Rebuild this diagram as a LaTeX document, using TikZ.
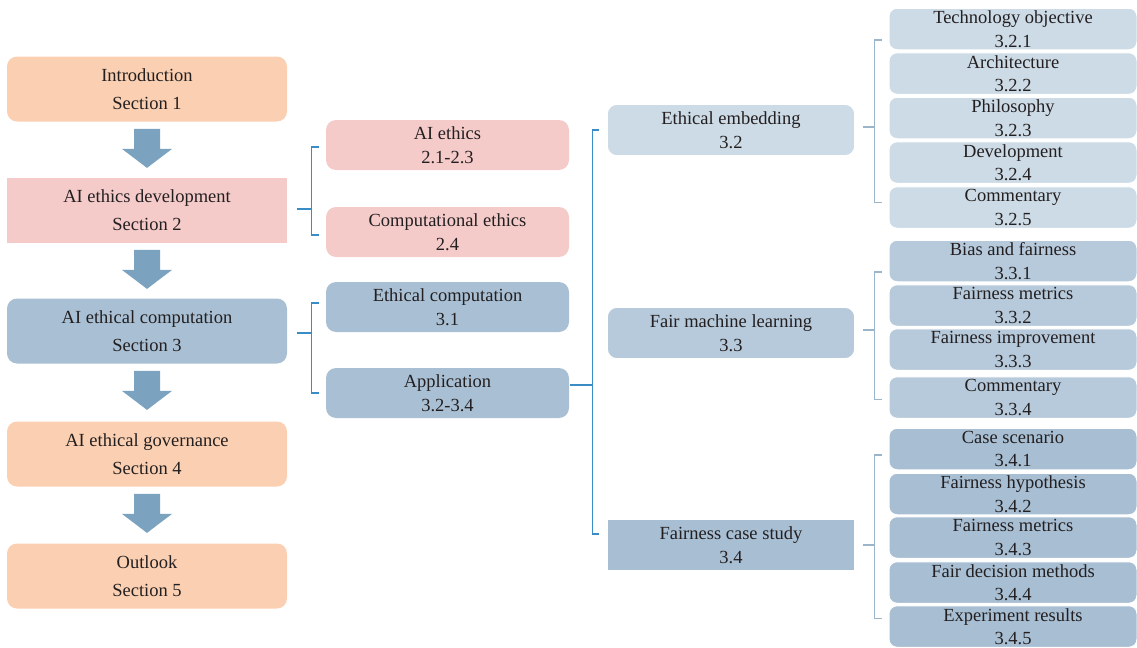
\documentclass[tikz,border=0pt]{standalone}
\usepackage{fontspec}
\setmainfont{Liberation Serif}
\usetikzlibrary{calc}
\definecolor{peach}{HTML}{FBD0B2}
\definecolor{rose}{HTML}{F5CBCA}
\definecolor{secblue}{HTML}{A9C0D4}
\definecolor{arrowblue}{HTML}{7BA3C0}
\definecolor{embfill}{HTML}{CCDBE6}
\definecolor{fmlfill}{HTML}{B7CADB}
\definecolor{casefill}{HTML}{A7BED3}
\definecolor{braceblue}{HTML}{3A8DC4}
\definecolor{bracegray}{HTML}{9BB5CA}
\definecolor{ink}{HTML}{231F20}
\tikzset{
  box/.style={rounded corners=5pt,inner sep=0pt,align=center,text=ink,
    font=\fontsize{9.25}{11.75}\selectfont},
  secbox/.style={box,minimum width=140pt,minimum height=32.5pt,
    font=\fontsize{9.25}{14}\selectfont},
  midbox/.style={box,minimum width=121.5pt,minimum height=25pt},
  subbox/.style={box,minimum width=124pt,minimum height=26pt,draw=white,line width=.8pt},
  leafbox/.style={box,rounded corners=4pt,minimum width=124pt,minimum height=20.75pt,
    draw=white,line width=.5pt},
  brace/.style={line width=.7pt},
}
\begin{document}
\begin{tikzpicture}[x=.5pt,y=-.5pt]
\useasboundingbox (0,0) rectangle (1137,648);
\node[secbox,fill=peach] (intro) at (147,89) {Introduction\\Section 1};
\node[secbox,fill=rose,rounded corners=0pt] (devel) at (147,210) {AI ethics development\\Section 2};
\node[secbox,fill=secblue] (comput) at (147,331) {AI ethical computation\\Section 3};
\node[secbox,fill=peach] (govern) at (147,454) {AI ethical governance\\Section 4};
\node[secbox,fill=peach] (outlook) at (147,576) {Outlook\\Section 5};
\foreach \a/\b in {intro/devel,devel/comput,comput/govern,govern/outlook}
  \fill[arrowblue] ([shift={(-13,7)}]\a.south) -- ++(26,0) -- ++(0,20) -- ++(12,0)
    -- ++(-25,19) -- ++(-25,-19) -- ++(12,0) -- cycle;
\node[midbox,fill=rose] (ethics) at (447.5,145) {AI ethics\\2.1-2.3};
\node[midbox,fill=rose] (competh) at (447.5,232) {Computational ethics\\2.4};
\node[midbox,fill=secblue] (ethcomp) at (447.5,307) {Ethical computation\\3.1};
\node[midbox,fill=secblue] (applic) at (447.5,393) {Application\\3.2-3.4};
\node[subbox,fill=embfill] (embed) at (731,130) {Ethical embedding\\3.2};
\node[subbox,fill=fmlfill] (fairml) at (731,333) {Fair machine learning\\3.3};
\node[subbox,fill=casefill,rounded corners=0pt] (casest) at (731,545) {Fairness case study\\3.4};
\foreach \n/\y/\c/\t/\s in {
  l321/29/embfill/Technology objective/3.2.1, l322/73.5/embfill/Architecture/3.2.2,
  l323/118/embfill/Philosophy/3.2.3, l324/162.5/embfill/Development/3.2.4,
  l325/207.5/embfill/Commentary/3.2.5,
  l331/261/fmlfill/Bias and fairness/3.3.1, l332/305.5/fmlfill/Fairness metrics/3.3.2,
  l333/349.5/fmlfill/Fairness improvement/3.3.3, l334/397.5/fmlfill/Commentary/3.3.4,
  l341/449/casefill/Case scenario/3.4.1, l342/494/casefill/Fairness hypothesis/3.4.2,
  l343/537.5/casefill/Fairness metrics/3.4.3, l344/582.5/casefill/Fair decision methods/3.4.4,
  l345/626.5/casefill/Experiment results/3.4.5}
  \node[leafbox,fill=\c] (\n) at (1013,\y) {\t\\\s};
% brackets: parent/top/bottom/gap/colour/top offset/bottom offset/stub offset
\foreach \p/\t/\b/\g/\c/\ty/\by/\py in {
  devel/ethics/competh/10/braceblue/2/3/-1,
  comput/ethcomp/applic/10/braceblue/-4/0/2,
  applic/embed/casest/1/braceblue/0/-11/-8,
  embed/l321/l325/7/bracegray/11/-5/-3,
  fairml/l331/l334/7/bracegray/11/2/-3,
  casest/l341/l345/7/bracegray/6/-8/0}{
  \draw[brace,draw=\c] ($(\t.west)+(-7,\ty)$) -| ($(\b.west)+(-14,\by)$) -- ($(\b.west)+(-7,\by)$);
  \draw[brace,draw=\c] ($(\p.east)+(\g,\py)$) -- ($(\t.west |- \p.east)+(-14,\py)$);
}
\end{tikzpicture}
\end{document}
